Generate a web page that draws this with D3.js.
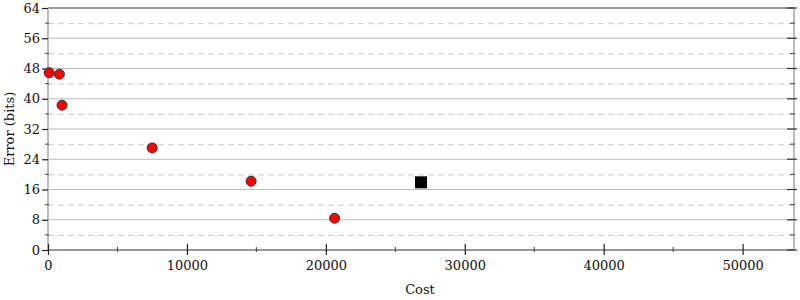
<!doctype html>
<html>
<head>
<meta charset="UTF-8">
<title>Cost vs Error</title>
<script src="https://d3js.org/d3.v7.min.js"></script>
<style>
  body { margin: 0; background: #fff; }
  text { font-family: "DejaVu Serif", serif; font-size: 13px; fill: #111; }
</style>
</head>
<body>
<svg id="chart" width="800" height="300"></svg>
<script>
// data
var costs = [80, 820, 1010, 7500, 14620, 20630];
var errors = [46.9, 46.5, 38.3, 27.0, 18.2, 8.4];
var bestCost = [26850];
var bestError = [17.9];
var xTicks = [0, 10000, 20000, 30000, 40000, 50000];
var yTicks = [0, 8, 16, 24, 32, 40, 48, 56, 64];

function drawChart() {
var svg = d3.select('#chart');
var mLeft = 48, mRight = 794, mTop = 8, mBottom = 250;

var x = d3.scaleLinear().domain([0, 53700]).range([mLeft, mRight]);
var y = d3.scaleLinear().domain([0, 64]).range([mBottom, mTop]);

var minorY = d3.range(4, 64, 8);
var minorX = d3.range(5000, 53700, 10000);

// grid
svg.selectAll('.gmaj').data(yTicks.slice(1, -1)).enter().append('line')
    .attr('x1', mLeft).attr('x2', mRight)
    .attr('y1', d => y(d)).attr('y2', d => y(d))
    .attr('stroke', '#bbb').attr('stroke-width', 1);
svg.selectAll('.gmin').data(minorY).enter().append('line')
    .attr('x1', mLeft).attr('x2', mRight)
    .attr('y1', d => y(d) + 0.5).attr('y2', d => y(d) + 0.5)
    .attr('stroke', '#ccc').attr('stroke-width', 1)
    .attr('stroke-dasharray', '6,4');

// frame
svg.append('line').attr('x1', mLeft).attr('x2', mRight).attr('y1', y(64)).attr('y2', y(64))
    .attr('stroke', '#999').attr('stroke-width', 2);
svg.append('line').attr('x1', mLeft).attr('x2', mLeft).attr('y1', mTop).attr('y2', mBottom)
    .attr('stroke', '#bbb').attr('stroke-width', 2);
svg.append('line').attr('x1', mRight).attr('x2', mRight).attr('y1', mTop).attr('y2', mBottom)
    .attr('stroke', '#bbb').attr('stroke-width', 2);
svg.append('line').attr('x1', mLeft).attr('x2', mRight).attr('y1', mBottom).attr('y2', mBottom)
    .attr('stroke', '#999').attr('stroke-width', 2);

// y axis ticks
var yAxis = d3.axisLeft(y).tickValues(yTicks).tickSize(6).tickPadding(2);
var ga = svg.append('g').attr('transform', 'translate(' + mLeft + ',0)').call(yAxis);
ga.select('.domain').remove();
ga.selectAll('line').attr('stroke', '#222').attr('stroke-width', 1.2);
ga.selectAll('text').style('font-family', '"DejaVu Serif", serif').style('font-size', '13px').attr('fill', '#111');

svg.selectAll('.ymin').data(minorY).enter().append('line')
    .attr('x1', mLeft - 3).attr('x2', mLeft + 1)
    .attr('y1', d => y(d)).attr('y2', d => y(d))
    .attr('stroke', '#444');

// right mirrored ticks
svg.selectAll('.yr').data(yTicks).enter().append('line')
    .attr('x1', mRight - 7).attr('x2', mRight + 3)
    .attr('y1', d => y(d)).attr('y2', d => y(d))
    .attr('stroke', '#333').attr('stroke-width', 1.2);
svg.selectAll('.yrm').data(minorY).enter().append('line')
    .attr('x1', mRight - 4).attr('x2', mRight + 1)
    .attr('y1', d => y(d)).attr('y2', d => y(d))
    .attr('stroke', '#444');

// x axis
var xAxis = d3.axisBottom(x).tickValues(xTicks).tickSize(5).tickPadding(6).tickFormat(d3.format('d'));
var gx = svg.append('g').attr('transform', 'translate(0,' + mBottom + ')').call(xAxis);
gx.select('.domain').remove();
gx.selectAll('line').attr('stroke', '#222').attr('y1', -6).attr('stroke-width', 1.2);
gx.selectAll('text').style('font-family', '"DejaVu Serif", serif').style('font-size', '13px').attr('fill', '#111');

svg.selectAll('.xmin').data(minorX).enter().append('line')
    .attr('x1', d => x(d)).attr('x2', d => x(d))
    .attr('y1', mBottom - 3).attr('y2', mBottom + 2)
    .attr('stroke', '#444');

// axis titles
svg.append('text').attr('x', (mLeft + mRight) / 2 - 1).attr('y', 294)
    .attr('text-anchor', 'middle').text('Cost');
svg.append('text').attr('transform', 'translate(14,' + ((mTop + mBottom) / 2) + ') rotate(-90)')
    .attr('text-anchor', 'middle').text('Error (bits)');

// points
var pts = costs.map((c, i) => ({c: c, e: errors[i]}));
svg.selectAll('.pt').data(pts).enter().append('circle')
    .attr('cx', d => x(d.c)).attr('cy', d => y(d.e)).attr('r', 5)
    .attr('fill', '#f00').attr('stroke', '#333').attr('stroke-width', 1);

var best = bestCost.map((c, i) => ({c: c, e: bestError[i]}));
svg.selectAll('.best').data(best).enter().append('rect')
    .attr('x', d => x(d.c) - 6).attr('y', d => y(d.e) - 6)
    .attr('width', 12).attr('height', 12)
    .attr('fill', '#000');
}
drawChart();
</script>
</body>
</html>
